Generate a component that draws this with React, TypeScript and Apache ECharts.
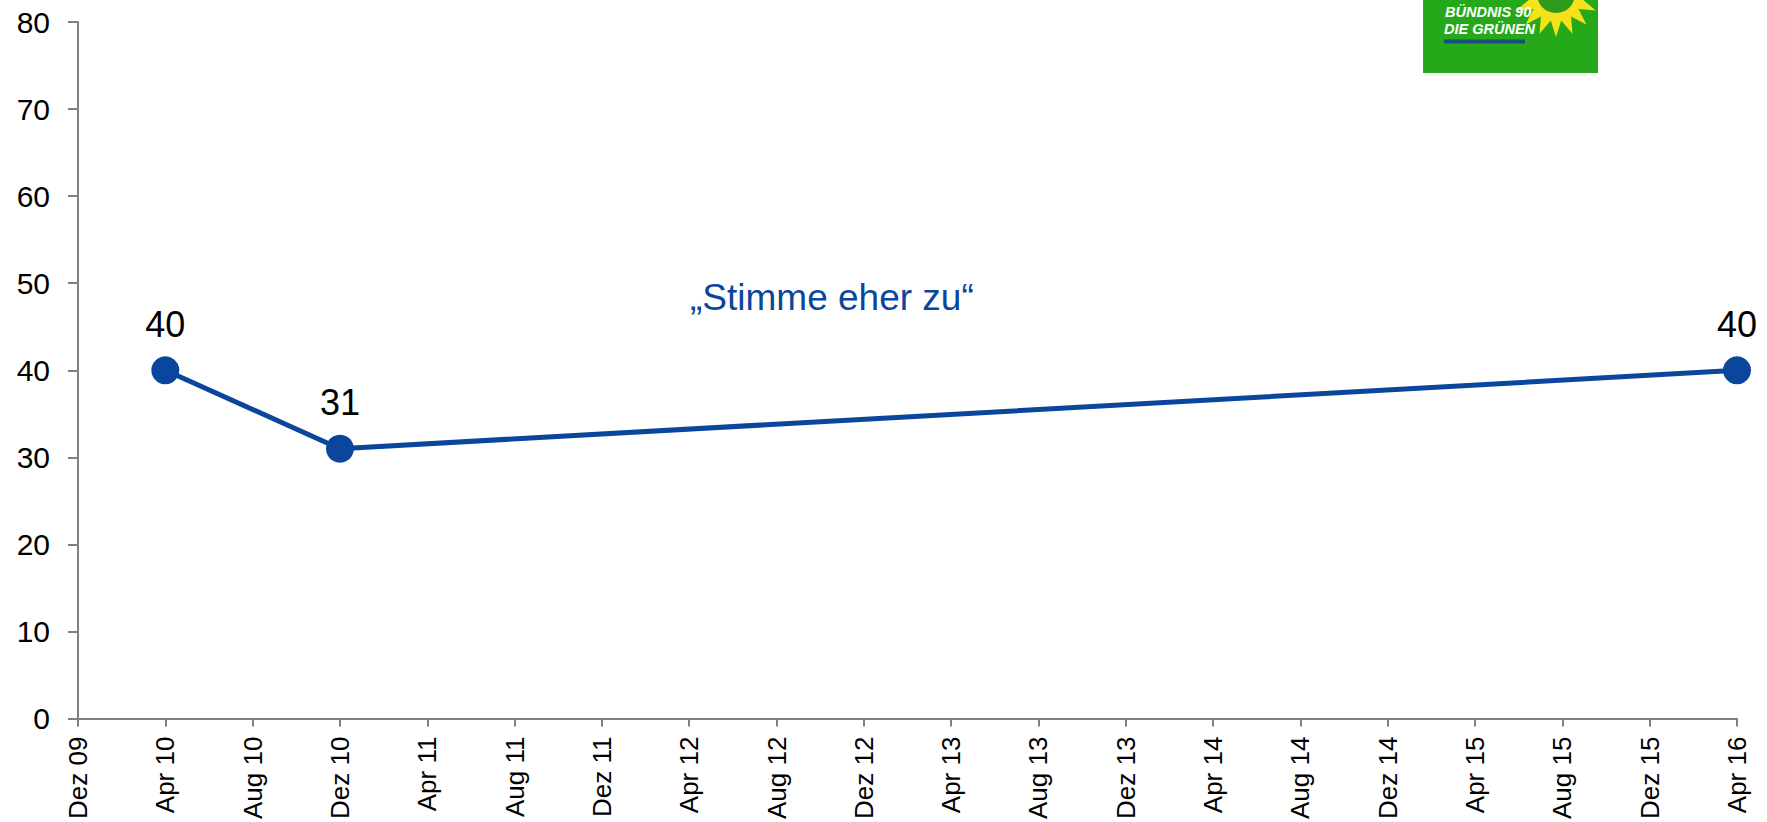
import React, { useEffect, useRef } from "react";
import * as echarts from "echarts";

const categories = [
  "Dez 09", "Apr 10", "Aug 10", "Dez 10", "Apr 11", "Aug 11", "Dez 11",
  "Apr 12", "Aug 12", "Dez 12", "Apr 13", "Aug 13", "Dez 13", "Apr 14",
  "Aug 14", "Dez 14", "Apr 15", "Aug 15", "Dez 15", "Apr 16",
];
const stimmeEherZu: (number | null)[] = [
  null, 40, null, 31, null, null, null, null, null, null, null, null, null,
  null, null, null, null, null, null, 40,
];
const yTicks = { min: 0, max: 80, interval: 10 };
const seriesName = "„Stimme eher zu“";

const FONT = "'Liberation Sans', Arial, Helvetica, sans-serif";
const BLUE = "#0a469b";

function sunflowerPoints(cx: number, cy: number, rOut: number, rIn: number, n: number) {
  const pts: number[][] = [];
  for (let i = 0; i < n * 2; i++) {
    const r = i % 2 === 0 ? rOut : rIn;
    const a = (Math.PI * i) / n;
    pts.push([cx + r * Math.cos(a), cy + r * Math.sin(a)]);
  }
  return pts;
}

export default function App() {
  const ref = useRef<HTMLDivElement>(null);
  useEffect(() => {
    document.body.style.margin = "0";
    if (!ref.current) return;
    const chart = echarts.init(ref.current, undefined, { renderer: "svg" });
    chart.setOption({
      animation: false,
      backgroundColor: "#ffffff",
      grid: { left: 78, right: 30, top: 22, bottom: 103, containLabel: false },
      xAxis: {
        type: "category",
        data: categories,
        boundaryGap: false,
        axisLine: { lineStyle: { color: "#808080", width: 2 } },
        axisTick: { show: true, length: 8, alignWithLabel: true, lineStyle: { color: "#808080", width: 2 } },
        axisLabel: {
          rotate: 90,
          interval: 0,
          margin: 18,
          color: "#000",
          fontSize: 26,
          fontFamily: FONT,
        },
        splitLine: { show: false },
      },
      yAxis: {
        type: "value",
        min: yTicks.min,
        max: yTicks.max,
        interval: yTicks.interval,
        axisLine: { show: true, lineStyle: { color: "#808080", width: 2 } },
        axisTick: { show: true, length: 10, lineStyle: { color: "#808080", width: 2 } },
        axisLabel: { color: "#000", fontSize: 30, fontFamily: FONT, margin: 28 },
        splitLine: { show: false },
      },
      series: [
        {
          name: seriesName,
          type: "line",
          data: stimmeEherZu,
          connectNulls: true,
          symbol: "circle",
          symbolSize: 28,
          lineStyle: { color: BLUE, width: 5 },
          itemStyle: { color: BLUE },
          label: {
            show: true,
            position: "top",
            distance: 14,
            color: "#000",
            fontSize: 36,
            fontFamily: FONT,
          },
        },
      ],
      graphic: [
        {
          type: "text",
          left: 690,
          top: 279,
          style: { text: seriesName, fill: BLUE, font: `37px ${FONT}` },
        },
        {
          type: "group",
          children: [
            { type: "rect", shape: { x: 1423, y: 0, width: 175, height: 73 }, style: { fill: "#25a91a" } },
            {
              type: "polygon",
              shape: { points: sunflowerPoints(1556, -6, 43, 27, 16) },
              style: { fill: "#f5e31a" },
            },
            { type: "circle", shape: { cx: 1556, cy: -6, r: 19 }, style: { fill: "#2e9a1c" } },
            {
              type: "text",
              x: 1445,
              y: 4,
              style: { text: "BÜNDNIS 90", fill: "#ffffff", font: `italic bold 14.5px ${FONT}` },
            },
            {
              type: "text",
              x: 1444,
              y: 21,
              style: { text: "DIE GRÜNEN", fill: "#ffffff", font: `italic bold 14.5px ${FONT}` },
            },
            {
              type: "line",
              shape: { x1: 1444, y1: 41.5, x2: 1525, y2: 41.5 },
              style: { stroke: "#1b4f7a", lineWidth: 4 },
            },
          ],
        },
      ],
    });
    return () => chart.dispose();
  }, []);
  return <div ref={ref} style={{ width: 1767, height: 822 }} />;
}
